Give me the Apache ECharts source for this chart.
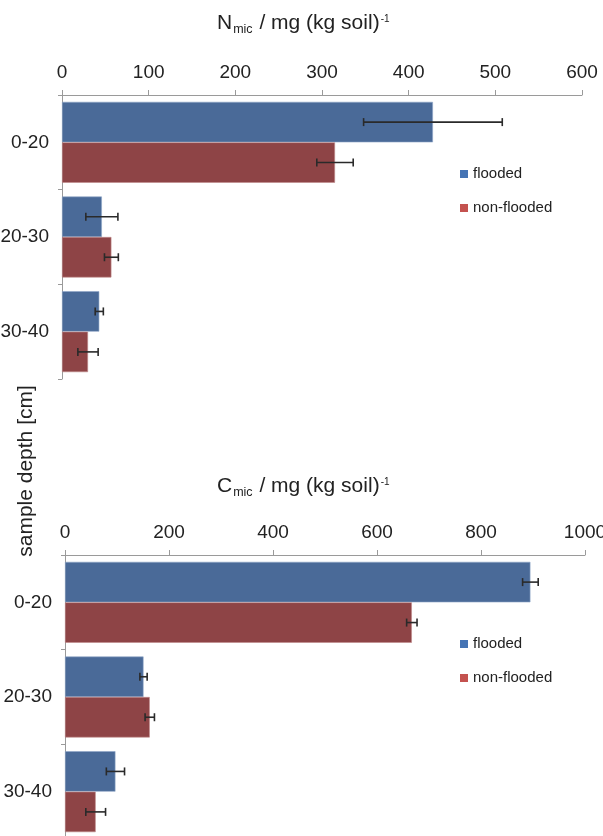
<!DOCTYPE html>
<html>
<head>
<meta charset="utf-8">
<script src="https://cdn.jsdelivr.net/npm/echarts@6/dist/echarts.min.js"></script>
<style>html,body{margin:0;padding:0;background:#fff}#c{width:603px;height:836px}</style>
</head>
<body>
<div id="c"></div>
<script>
// ---- data ----
const categories = ['0-20', '20-30', '30-40'];
const seriesNames = ['flooded', 'non-flooded'];
// N_mic (mg/kg soil)
const nFlooded = [428, 46, 43];
const nFloodedErr = [80, 18.5, 4.7];
const nNonFlooded = [315, 57, 30];
const nNonFloodedErr = [21, 8, 11.7];
// C_mic (mg/kg soil)
const cFlooded = [895, 151, 97];
const cFloodedErr = [15, 7, 17.5];
const cNonFlooded = [667, 163, 59];
const cNonFloodedErr = [10, 9, 19];
const nTicks = [0, 600, 100];   // min, max, interval
const cTicks = [0, 1000, 200];

const FONT = 'Liberation Sans, Arial, sans-serif';
const TXT = '#222';
const AX = '#9a9a9a';
const BAR_COLORS = ['#4a6a98', '#8e4446'];
const LEG_COLORS = ['#4574b4', '#c4524f'];
const CAT_GAP = 0.145;

const chart = echarts.init(document.getElementById('c'));

function errRender(sign) {
  return function (params, api) {
    const cat = api.value(0), mean = api.value(1), err = api.value(2);
    const band = api.size([0, 1])[1];
    const bw = band * (1 - CAT_GAP) / 2;
    const yc = api.coord([mean, cat])[1] + sign * bw / 2;
    const lo = api.coord([mean - err, cat])[0];
    const hi = api.coord([mean + err, cat])[0];
    const cap = 4;
    const st = { stroke: '#2a2a2a', lineWidth: 1.6 };
    return {
      type: 'group',
      children: [
        { type: 'line', shape: { x1: lo, y1: yc, x2: hi, y2: yc }, style: st },
        { type: 'line', shape: { x1: lo, y1: yc - cap, x2: lo, y2: yc + cap }, style: st },
        { type: 'line', shape: { x1: hi, y1: yc - cap, x2: hi, y2: yc + cap }, style: st }
      ]
    };
  };
}
function errData(vals, errs) { return vals.map((v, i) => [i, v, errs[i]]); }

function xAxisCfg(gi, t) {
  return {
    type: 'value', gridIndex: gi, position: 'top', min: t[0], max: t[1], interval: t[2],
    axisLine: { show: true, lineStyle: { color: AX, width: 1 } },
    axisTick: { show: true, length: 5, lineStyle: { color: AX } },
    splitLine: { show: false },
    axisLabel: { margin: 13, fontSize: 19, color: TXT, fontFamily: FONT, formatter: v => String(v) }
  };
}
function yAxisCfg(gi) {
  return {
    type: 'category', gridIndex: gi, data: categories, inverse: true,
    axisLine: { show: true, lineStyle: { color: AX, width: 1 } },
    axisTick: { show: true, length: 4, lineStyle: { color: AX } },
    axisLabel: { margin: 13, fontSize: 19, color: TXT, fontFamily: FONT }
  };
}
function barSeries(name, gi, data, ci) {
  return {
    type: 'bar', name: name, xAxisIndex: gi, yAxisIndex: gi, data: data,
    barCategoryGap: (CAT_GAP * 100) + '%', barGap: '0%',
    itemStyle: { color: BAR_COLORS[ci], borderColor: ci === 0 ? '#8fa6c8' : '#c08a8b', borderWidth: 0.6 }
  };
}
function errSeries(gi, vals, errs, sign) {
  return {
    type: 'custom', xAxisIndex: gi, yAxisIndex: gi, data: errData(vals, errs),
    encode: { x: 1, y: 0 }, renderItem: errRender(sign), z: 5, silent: true
  };
}
function legendCfg(top) {
  return {
    orient: 'vertical', left: 455, top: top, itemWidth: 8, itemHeight: 8, itemGap: 19,
    icon: 'rect',
    itemStyle: { borderWidth: 0 },
    textStyle: { fontSize: 15, color: TXT, fontFamily: FONT },
    data: seriesNames.map((n, i) => ({ name: n, itemStyle: { color: LEG_COLORS[i], borderWidth: 0 } }))
  };
}
const richT = {
  m: { fontSize: 21, color: TXT, fontFamily: FONT, fontWeight: 'normal', lineHeight: 26 },
  s: { fontSize: 12.5, color: TXT, fontFamily: FONT, fontWeight: 'normal', lineHeight: 26, padding: [14, 1, 0, 1] },
  p: { fontSize: 10, color: TXT, fontFamily: FONT, fontWeight: 'normal', lineHeight: 26, padding: [0, 0, 8, 1] }
};

chart.setOption({
  animation: false,
  backgroundColor: '#fff',
  title: [
    { left: 217, top: 10, padding: 0, text: '{m|N}{s|mic}{m| / mg (kg soil)}{p|-1}', textStyle: { fontWeight: 'normal', rich: richT } },
    { left: 217, top: 473, padding: 0, text: '{m|C}{s|mic}{m| / mg (kg soil)}{p|-1}', textStyle: { fontWeight: 'normal', rich: richT } }
  ],
  grid: [
    { left: 62, top: 95, width: 520, height: 284, outerBoundsMode: 'none', containLabel: false },
    { left: 65, top: 555, width: 520, height: 284, outerBoundsMode: 'none', containLabel: false }
  ],
  xAxis: [xAxisCfg(0, nTicks), xAxisCfg(1, cTicks)],
  yAxis: [yAxisCfg(0), yAxisCfg(1)],
  legend: [legendCfg(161.5), legendCfg(631.5)],
  graphic: [{
    type: 'text', x: 16, y: 471, rotation: Math.PI / 2,
    style: { text: 'sample depth [cm]', fill: TXT, font: '21px ' + FONT, textAlign: 'center', textVerticalAlign: 'top' }
  }],
  series: [
    barSeries(seriesNames[0], 0, nFlooded, 0),
    barSeries(seriesNames[1], 0, nNonFlooded, 1),
    barSeries(seriesNames[0], 1, cFlooded, 0),
    barSeries(seriesNames[1], 1, cNonFlooded, 1),
    errSeries(0, nFlooded, nFloodedErr, -1),
    errSeries(0, nNonFlooded, nNonFloodedErr, 1),
    errSeries(1, cFlooded, cFloodedErr, -1),
    errSeries(1, cNonFlooded, cNonFloodedErr, 1)
  ]
});
</script>
</body>
</html>
